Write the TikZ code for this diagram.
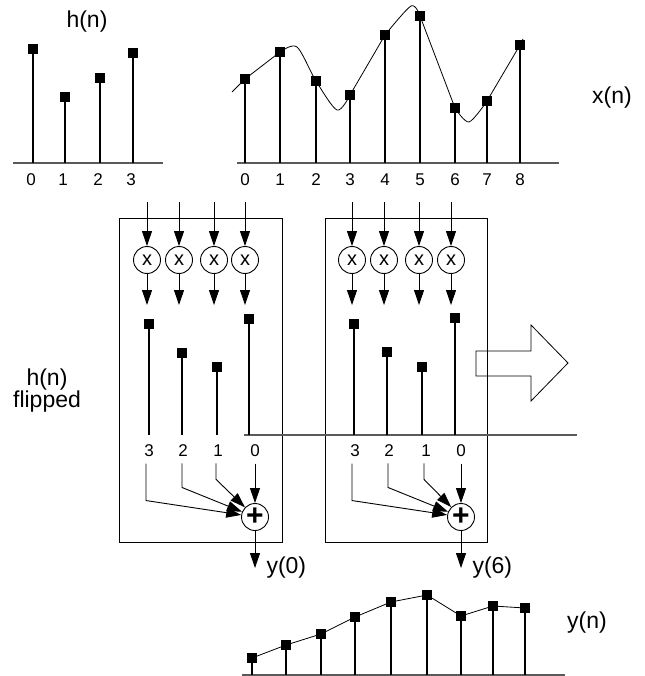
\documentclass[tikz,border=0pt]{standalone}
\usepackage{fontspec}
\setmainfont{Liberation Sans}
\usetikzlibrary{arrows.meta,positioning}
\definecolor{ink}{HTML}{000000}
\definecolor{axisgray}{HTML}{5A5A5A}
\tikzset{samp/.style={fill=ink,minimum size=10pt,inner sep=0pt},stem/.style={draw=ink,line width=2.6pt},axis/.style={draw=axisgray,line width=1.4pt},trace/.style={draw=ink,line width=0.8pt},lab/.style={font=\fontsize{23}{22}\selectfont,align=center},num/.style={font=\fontsize{17}{17}\selectfont},mult/.style={draw=ink,circle,line width=0.9pt,minimum size=27pt,inner sep=0pt,font=\fontsize{20}{20}\selectfont},adder/.style={draw=ink,circle,line width=0.9pt,minimum size=27pt,inner sep=0pt,label={[font=\fontsize{30}{30}\selectfont\bfseries]center:+}},arr/.style={-{Triangle[length=15pt,width=10pt]},draw=ink,line width=0.9pt},win/.style={draw=ink,line width=0.9pt,inner sep=0pt}}

\begin{document}
\begin{tikzpicture}[x=1pt,y=-1pt]
\useasboundingbox (0,0) rectangle (644,676);
\node[win,minimum width=163pt,minimum height=324pt] (wa) at (200.5,380) {};
\node[win,minimum width=162pt,minimum height=324pt] (wb) at (406,380) {};
\coordinate (hl) at (13,163); \coordinate (hr) at (163,163);
\draw[axis] (hl) -- (hr);
\foreach \i/\x/\y in {0/33/49,1/65/97,2/100/78,3/133/53}{
\node[samp] (h\i) at (\x,\y) {};
\draw[stem] (h\i.center) -- (h\i.center |- hl);
\node[num] (hn\i) at (\x-2,180) {\i};
}
\node[lab] (htitle) at (87,22) {h(n)};
\coordinate (xl) at (237,163); \coordinate (xr) at (559,163);
\draw[axis] (xl) -- (xr);
\foreach \i/\x/\y in {0/245/79,1/280/52,2/316/81,3/350/95,4/385/35,5/420/16,6/455/108,7/487/101,8/520/45}{
\node[samp] (x\i) at (\x,\y) {};
\draw[stem] (x\i.center) -- (x\i.center |- xl);
\node[num] (xn\i) at (\x,180) {\i};
}
\coordinate (xs) at (232,92); \coordinate (xe) at (523,39);
\draw[trace] (xs) -- (x0.center) -- (x1.center) plot[smooth] coordinates {(x1.center) (297,47) (x2.center) (337,110) (x3.center)} -- (x4.center) plot[smooth] coordinates {(x4.center) (411,6) (x5.center)} -- (x6.center) plot[smooth] coordinates {(x6.center) (469,122) (x7.center)} -- (x8.center) -- (xe);
\node[lab] (xtitle) at (612,98) {x(n)};
\node[lab] (hflip) at (47,391) {h(n)\\flipped};
\coordinate (ml) at (244,435); \coordinate (mr) at (577,435);
\draw[axis] (ml) -- (mr);
\foreach \w/\i/\cx/\sx/\sy/\lx in {a/3/147/149/324/149,a/2/179/182/353/183,a/1/214/217/367/218,a/0/245/249/319/255,b/3/352/354/324/355,b/2/384/387/352/389,b/1/419/422/367/426,b/0/451/455/318/461}{
\coordinate (in\w\i) at (\cx,202);
\node[mult] (m\w\i) at (\cx,260) {x};
\coordinate (out\w\i) at (\cx,305);
\draw[arr] (in\w\i) -- (m\w\i);
\draw[arr] (m\w\i) -- (out\w\i);
\node[samp] (s\w\i) at (\sx,\sy) {};
\draw[stem] (s\w\i.center) -- (s\w\i.center |- ml);
\node[num] (l\w\i) at (\lx,451) {\i};
}
\node[adder] (adda) at (255,517) {};
\node[adder] (addb) at (461,517) {};
\foreach \w in {a,b}{
\draw[arr] ([xshift=-3pt,yshift=-3pt]l\w3.south) -- ++(0,37) -- (add\w);
\draw[arr] ([xshift=-1pt,yshift=-3pt]l\w2.south) -- ++(0,24) -- (add\w);
\draw[arr] ([xshift=-2pt,yshift=-3pt]l\w1.south) -- ++(0,16) -- (add\w);
\draw[arr] ([yshift=-3pt]l\w0.south) -- (add\w);
}
\coordinate (ya) at (255,568); \coordinate (yb) at (461,568);
\draw[arr] (adda) -- (ya);
\draw[arr] (addb) -- (yb);
\node[lab,right=8pt of ya] (yalab) {y(0)};
\node[lab,right=8pt of yb] (yblab) {y(6)};
\draw[trace] (476,351) -- (531,351) -- (531,325) -- (568,363) -- (531,401) -- (531,376) -- (476,376) -- cycle;
\coordinate (yl) at (242,675); \coordinate (yr) at (565,675);
\draw[axis] (yl) -- (yr);
\foreach \i/\x/\y in {0/252/658,1/286/645,2/321/634,3/355/617,4/391/602,5/427/595,6/461/616,7/493/606,8/525/608}{
\node[samp] (y\i) at (\x,\y) {};
\draw[stem] (y\i.center) -- (y\i.center |- yl);
}
\draw[trace] (y0.center) \foreach \i in {1,...,8}{ -- (y\i.center)};
\node[lab] (ytitle) at (587,623) {y(n)};
\end{tikzpicture}
\end{document}
